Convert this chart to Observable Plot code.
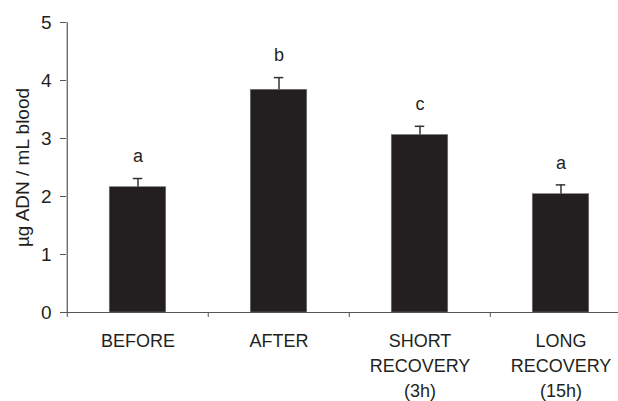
<!DOCTYPE html>
<html>
<head>
<meta charset="utf-8">
<script src="https://cdn.jsdelivr.net/npm/d3@7"></script>
<script src="https://cdn.jsdelivr.net/npm/@observablehq/plot@0.6"></script>
<style>
  html, body { margin: 0; padding: 0; background: #fff; }
</style>
</head>
<body>
<div id="chart"></div>
<script>
const categories = ["BEFORE", "AFTER", "SHORT RECOVERY (3h)", "LONG RECOVERY (15h)"];
const tickLabels = ["BEFORE", "AFTER", "SHORT\nRECOVERY\n(3h)", "LONG\nRECOVERY\n(15h)"];
const means = [2.16, 3.84, 3.06, 2.04];
const errors = [0.15, 0.21, 0.15, 0.16];
const letters = ["a", "b", "c", "a"];
const yTicks = [0, 1, 2, 3, 4, 5];
const yLabel = "µg ADN / mL blood";

const data = categories.map((c, i) => ({cat: c, mean: means[i], top: means[i] + errors[i], letter: letters[i]}));

const step = (632 - 66) / categories.length;
const barW = 57, capW = 10;
const ink = "#231f20", axisCol = "#555";

const chart = Plot.plot({
  width: 618,
  height: 401,
  marginLeft: 66,
  marginRight: 0,
  marginTop: 22,
  marginBottom: 89,
  style: {fontFamily: "'Liberation Sans', Arial, sans-serif", fontSize: "18px", color: ink, background: "#fff"},
  x: {domain: categories, range: [66, 632], padding: 0, axis: null},
  y: {domain: [0, 5], axis: null},
  marks: [
    Plot.axisY(yTicks, {tickSize: 6, tickPadding: 9, fontSize: 19, stroke: axisCol, fill: ink,
      tickFormat: d3.format("d"),
      label: yLabel, labelAnchor: "center", labelArrow: "none", labelOffset: 51}),
    Plot.axisX(categories, {tickSize: 5, tickFormat: () => "", dx: -step / 2, stroke: axisCol, label: null}),
    Plot.axisX(categories, {tickSize: 0, tickPadding: 17, fontSize: 18, fill: ink, lineHeight: 1.38,
      tickFormat: (d) => tickLabels[categories.indexOf(d)], label: null}),
    Plot.ruleX([categories[0]], {dx: -step / 2, y1: 0, y2: yTicks[yTicks.length - 1], stroke: axisCol, strokeWidth: 1.2}),
    Plot.barY(data, {x: "cat", y: "mean", fill: ink, stroke: "#777", strokeWidth: 0.6,
      insetLeft: (step - barW) / 2, insetRight: (step - barW) / 2}),
    Plot.ruleX(data, {x: "cat", y1: "mean", y2: "top", stroke: "#333", strokeWidth: 1.5}),
    Plot.tickY(data, {x: "cat", y: "top", stroke: "#333", strokeWidth: 1.5,
      insetLeft: (step - capW) / 2, insetRight: (step - capW) / 2}),
    Plot.text(data, {x: "cat", y: "top", text: "letter", dy: -22, fontSize: 18, fill: ink}),
    Plot.ruleY([0], {stroke: axisCol, strokeWidth: 1.2})
  ]
});
document.getElementById("chart").appendChild(chart);
</script>
</body>
</html>
